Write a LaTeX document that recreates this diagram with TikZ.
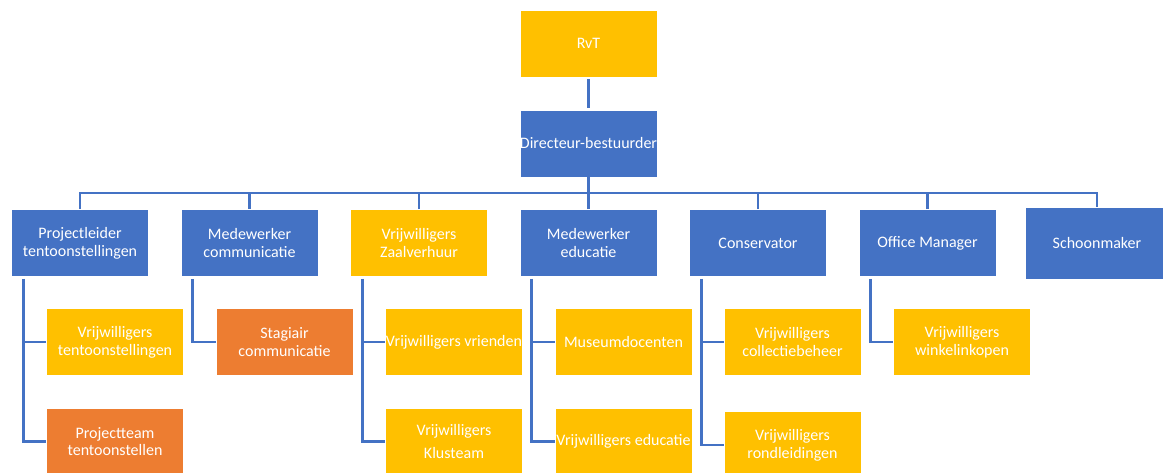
\documentclass[tikz,border=0pt]{standalone}
\usepackage{fontspec}
\setmainfont{Carlito}
\usetikzlibrary{positioning}
\definecolor{orgblue}{HTML}{4472C4}
\definecolor{orggold}{HTML}{FFC000}
\definecolor{orgorange}{HTML}{ED7D31}
\tikzset{
        orgbox/.style={rectangle, align=center, inner sep=0pt, text=white,
                minimum width=137pt, minimum height=67pt,
                draw=white, line width=0.6pt,
                font=\fontsize{16}{17.8}\selectfont},
        % Staff positions
        box_blue/.style={orgbox, fill=orgblue},
        % Volunteers
        box_gold/.style={orgbox, fill=orggold},
        % Interns and project teams
        box_orange/.style={orgbox, fill=orgorange},
        % Connectors
        orgline/.style={draw=orgblue, line width=2.9pt}
}
\begin{document}
\begin{tikzpicture}[x=1pt, y=-1pt]
    \useasboundingbox (0,0) rectangle (1163,473);
    % top
    \node[box_gold] (rvt) at (588.5,43.5) {RvT};
    \node[box_blue] (dir) at (588.5,143.5) {Directeur-bestuurder};
    % first level
    \node[box_blue] (pl)  at (80,243)    {Projectleider\\tentoonstellingen};
    \node[box_blue] (mc)  at (249.5,243) {Medewerker\\communicatie};
    \node[box_gold] (vz)  at (419,243)   {Vrijwilligers\\Zaalverhuur};
    \node[box_blue] (me)  at (588.5,243) {Medewerker\\educatie};
    \node[box_blue] (con) at (758,243)   {Conservator};
    \node[box_blue] (om)  at (927.5,243) {Office Manager};
    \node[box_blue, minimum width=143pt, minimum height=72pt] (sm) at (1097,243) {Schoonmaker};
    % second level
    \node[box_gold]   (vt) at (115,342)   {Vrijwilligers\\tentoonstellingen};
    \node[box_orange] (sc) at (284.5,342) {Stagiair\\communicatie};
    \node[box_gold]   (vv) at (454,342)   {Vrijwilligers vrienden};
    \node[box_gold]   (md) at (623.5,342) {Museumdocenten};
    \node[box_gold]   (vc) at (792.5,342) {Vrijwilligers\\collectiebeheer};
    \node[box_gold]   (vw) at (962,342)   {Vrijwilligers\\winkelinkopen};
    % third level
    \node[box_orange] (pt) at (115,441.5) {Projectteam\\tentoonstellen};
    \node[box_gold]   (vk) at (454,441.5) {Vrijwilligers\\[6pt]Klusteam};
    \node[box_gold]   (ve) at (623.5,441.5) {Vrijwilligers educatie};
    \node[box_gold]   (vr) at (792.5,445) {Vrijwilligers\\rondleidingen};

    % connectors
    \coordinate (bus) at (588.5,193);
    \draw[orgline, shorten <=2pt, shorten >=2pt] (rvt.south) -- (dir.north);
    \draw[orgline] (dir.south) -- (bus);
    \draw[orgline] (pl.north) |- (bus) -| (sm.north);
    \foreach \n in {mc,vz,me,con,om}
        \draw[orgline] (\n.north) -- (\n.north |- bus);
    \draw[orgline] ([xshift=12pt,yshift=-2pt]pl.south west) |- (vt.west);
    \draw[orgline] ([xshift=12pt,yshift=-2pt]pl.south west) |- (pt.west);
    \draw[orgline] ([xshift=12pt,yshift=-2pt]mc.south west) |- (sc.west);
    \draw[orgline] ([xshift=12pt,yshift=-2pt]vz.south west) |- (vv.west);
    \draw[orgline] ([xshift=12pt,yshift=-2pt]vz.south west) |- (vk.west);
    \draw[orgline] ([xshift=12pt,yshift=-2pt]me.south west) |- (md.west);
    \draw[orgline] ([xshift=12pt,yshift=-2pt]me.south west) |- (ve.west);
    \draw[orgline] ([xshift=12pt,yshift=-2pt]con.south west) |- (vc.west);
    \draw[orgline] ([xshift=12pt,yshift=-2pt]con.south west) |- (vr.west);
    \draw[orgline] ([xshift=12pt,yshift=-2pt]om.south west) |- (vw.west);
\end{tikzpicture}
\end{document}
